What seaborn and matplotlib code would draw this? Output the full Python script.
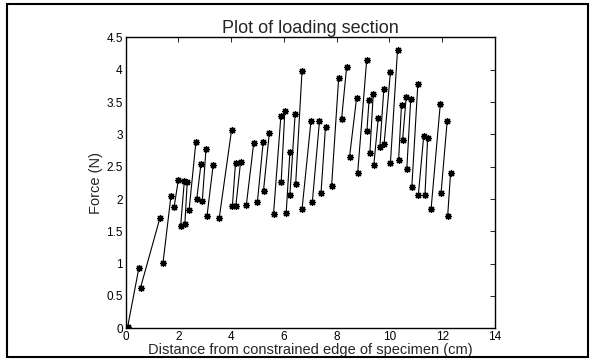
import pandas as pd
import matplotlib.pyplot as plt
import seaborn as sns
from matplotlib.patches import Rectangle

# each loading step: start (low) point and end (high) point
low_x = [0.08, 0.57, 1.42, 1.84, 2.09, 2.25, 2.41, 2.70, 2.91, 3.09, 3.55, 4.05, 4.18, 4.58,
         5.00, 5.23, 5.61, 5.90, 6.09, 6.23, 6.45, 6.69, 7.08, 7.41, 7.81, 8.19, 8.49, 8.80,
         9.15, 9.26, 9.41, 9.64, 9.80, 10.04, 10.35, 10.50, 10.66, 10.85, 11.10, 11.35, 11.58,
         11.96, 12.21]
low_y = [0.02, 0.63, 1.01, 1.87, 1.59, 1.62, 1.83, 2.00, 1.97, 1.74, 1.70, 1.89, 1.89, 1.91,
         1.96, 2.13, 1.77, 2.27, 1.79, 2.07, 2.24, 1.84, 1.95, 2.10, 2.20, 3.24, 2.65, 2.41,
         3.06, 2.71, 2.52, 2.80, 2.85, 2.56, 2.60, 2.91, 2.46, 2.18, 2.07, 2.07, 1.84,
         2.10, 1.74]
high_x = [0.51, 1.30, 1.72, 2.00, 2.23, 2.34, 2.67, 2.86, 3.05, 3.32, 4.02, 4.17, 4.36, 4.86,
          5.22, 5.45, 5.89, 6.04, 6.23, 6.43, 6.69, 7.03, 7.35, 7.58, 8.08, 8.38, 8.76, 9.14,
          9.23, 9.39, 9.58, 9.79, 10.04, 10.31, 10.46, 10.64, 10.81, 11.08, 11.30, 11.45, 11.93,
          12.19, 12.32]
high_y = [0.94, 1.70, 2.04, 2.29, 2.28, 2.27, 2.89, 2.54, 2.77, 2.52, 3.07, 2.56, 2.57, 2.87,
          2.89, 3.02, 3.29, 3.36, 2.72, 3.32, 3.98, 3.21, 3.20, 3.12, 3.88, 4.04, 3.57, 4.15,
          3.53, 3.63, 3.26, 3.70, 3.96, 4.31, 3.46, 3.58, 3.55, 3.78, 2.97, 2.94, 3.47,
          3.20, 2.41]

rows = []
for i in range(len(low_x)):
    rows.append({'seg': i, 'x': low_x[i], 'y': low_y[i]})
    rows.append({'seg': i, 'x': high_x[i], 'y': high_y[i]})
df = pd.DataFrame(rows)

sns.set_style('white')
plt.rcParams['font.family'] = ['Liberation Sans', 'DejaVu Sans']
plt.rcParams['xtick.direction'] = 'in'
plt.rcParams['ytick.direction'] = 'in'

fig = plt.figure(figsize=(5.92, 3.6), dpi=100)
ax = fig.add_axes([0.212, 0.088, 0.624, 0.808])

sns.lineplot(data=df, x='x', y='y', units='seg', estimator=None, sort=False,
             color='black', linewidth=0.8, marker=(8, 2, 0), markersize=5,
             markeredgewidth=0.9, markeredgecolor='black', ax=ax)

ax.set_xlim(0, 14)
ax.set_ylim(0, 4.5)
ax.set_xticks(range(0, 15, 2))
yt = [0, 0.5, 1, 1.5, 2, 2.5, 3, 3.5, 4, 4.5]
ax.set_yticks(yt)
ax.set_yticklabels(['0', '0.5', '1', '1.5', '2', '2.5', '3', '3.5', '4', '4.5'])
ax.tick_params(labelsize=8.5, length=3.5, width=0.6, top=True, right=True, pad=2, colors='black')
for s in ax.spines.values():
    s.set_color('black')
    s.set_linewidth(1.0)

ax.set_title('Plot of loading section', fontsize=13, pad=3)
ax.set_xlabel('Distance from constrained edge of specimen (cm)', fontsize=10.5, labelpad=0)
ax.set_ylabel('Force (N)', fontsize=10.5, labelpad=2)

# figure frame
fig.patches.append(Rectangle((7 / 592, 3 / 360), 581 / 592, 353 / 360, transform=fig.transFigure,
                             fill=False, edgecolor='black', linewidth=1.5))

fig.savefig('out.png', dpi=100)
